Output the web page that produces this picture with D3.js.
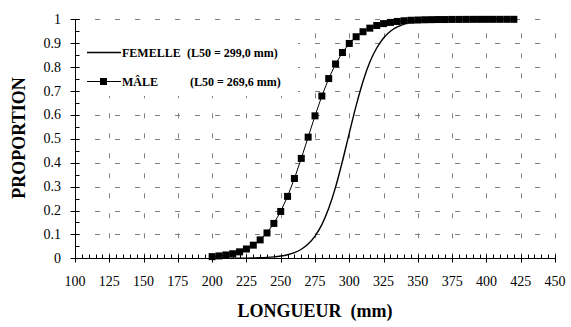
<!DOCTYPE html>
<html><head><meta charset="utf-8">
<script src="https://cdn.jsdelivr.net/npm/d3@7"></script>
<style>body{margin:0;background:#fff}svg{display:block}text{font-family:"Liberation Serif","Times New Roman",serif}</style>
</head><body>
<script>
const lengths = [200,205,210,215,220,225,230,235,240,245,250,255,260,265,270,275,280,285,290,295,300,305,310,315,320,325,330,335,340,345,350,355,360,365,370,375,380,385,390,395,400,405,410,415,420];
const maleValues = [0.007,0.010,0.014,0.019,0.027,0.039,0.055,0.077,0.106,0.146,0.196,0.259,0.334,0.418,0.507,0.596,0.679,0.752,0.813,0.861,0.899,0.927,0.948,0.963,0.974,0.982,0.987,0.991,0.994,0.996,0.997,0.998,0.9985,0.999,0.999,0.9995,0.9995,0.9997,0.9998,0.9998,0.9999,0.9999,0.9999,1,1];
const femaleValues = [0.0001,0.0001,0.0002,0.0003,0.0006,0.0009,0.0014,0.0023,0.0037,0.0059,0.0094,0.015,0.024,0.038,0.060,0.093,0.141,0.209,0.298,0.406,0.524,0.639,0.740,0.821,0.880,0.922,0.950,0.968,0.980,0.988,0.992,0.995,0.997,0.998,0.9988,0.9993,0.9996,0.9997,0.9998,0.9999,0.9999,0.9999,1,1,1];
const xTicks = [100,125,150,175,200,225,250,275,300,325,350,375,400,425,450];
const yTicks = [0,0.1,0.2,0.3,0.4,0.5,0.6,0.7,0.8,0.9,1];
const yTickLabels = ["0","0.1","0.2","0.3","0.4","0.5","0.6","0.7","0.8","0.9","1"];
const legendLabels = ["FEMELLE","MÂLE"];
const legendNotes = ["(L50 = 299,0 mm)","(L50 = 269,6 mm)"];
const xTitle = "LONGUEUR  (mm)";
const yTitle = "PROPORTION";

const W = 571, H = 327;
const FONT = "Liberation Serif";
const svg = d3.select("body").append("svg").attr("width", W).attr("height", H);
const x = d3.scaleLinear().domain([100,450]).range([75,555]);
const y = d3.scaleLinear().domain([0,1]).range([258.3,19.3]);

// grid
const grid = svg.append("g").attr("stroke","#808080").attr("stroke-width",1).attr("stroke-dasharray","5,15");
grid.selectAll("line.h").data(yTicks.filter(d=>d>0)).enter().append("line")
  .attr("x1", x(100)).attr("x2", x(450)).attr("y1", d=>Math.round(y(d))+0.5).attr("y2", d=>Math.round(y(d))+0.5);
grid.selectAll("line.v").data(xTicks.filter(d=>d>100)).enter().append("line")
  .attr("x1", d=>Math.round(x(d))+0.5).attr("x2", d=>Math.round(x(d))+0.5).attr("y1", y(0)).attr("y2", y(1));

// legend background
svg.append("rect").attr("x",80).attr("y",24).attr("width",218).attr("height",72).attr("fill","#fff");

// axes
const y0 = Math.round(y(0))+0.5, x0 = Math.round(x(100))+0.5;
const ax = svg.append("g").attr("stroke","#000").attr("stroke-width",1);
ax.append("line").attr("x1",x0).attr("x2",x(450)).attr("y1",y0).attr("y2",y0);
ax.append("line").attr("x1",x0).attr("x2",x0).attr("y1",y0).attr("y2",y(1));
const xMinor = d3.range(100,451,5);
ax.selectAll("line.xm").data(xMinor).enter().append("line")
  .attr("x1",d=>Math.round(x(d))+0.5).attr("x2",d=>Math.round(x(d))+0.5)
  .attr("y1",d=> y0 - 4).attr("y2",d=> (d%25===0) ? y0+4 : y0);
const yMinor = d3.range(0,21).map(i=>i*0.05);
ax.selectAll("line.ym").data(yMinor).enter().append("line")
  .attr("y1",d=>Math.round(y(d))+0.5).attr("y2",d=>Math.round(y(d))+0.5)
  .attr("x1",(d,i)=> i%2===0 ? x0-5 : x0).attr("x2",x0+4);

svg.selectAll("text.xt").data(xTicks).enter().append("text").attr("font-family",FONT)
  .attr("x",d=>x(d)).attr("y",286).attr("text-anchor","middle").attr("font-size",14).text(d=>d);
svg.selectAll("text.yt").data(yTicks).enter().append("text").attr("font-family",FONT)
  .attr("x",61).attr("y",d=>y(d)+4.5).attr("text-anchor","end").attr("font-size",14).text((d,i)=>yTickLabels[i]);

svg.append("text").attr("font-family",FONT).attr("x",315).attr("y",317).attr("text-anchor","middle").attr("font-size",18).attr("font-weight","bold")
  .style("white-space","pre").text(xTitle);
svg.append("text").attr("font-family",FONT).attr("transform","translate(25,138) rotate(-90)").attr("text-anchor","middle").attr("font-size",18).attr("font-weight","bold").text(yTitle);

// curves
const femaleData = lengths.map((l,i)=>[l,femaleValues[i]]);
const maleData = lengths.map((l,i)=>[l,maleValues[i]]);
svg.append("path").datum(femaleData).attr("fill","none").attr("stroke","#000").attr("stroke-width",1.4)
  .attr("d", d3.line().x(d=>x(d[0])).y(d=>y(d[1])).curve(d3.curveMonotoneX));
svg.append("path").datum(maleData).attr("fill","none").attr("stroke","#000").attr("stroke-width",1)
  .attr("d", d3.line().x(d=>x(d[0])).y(d=>y(d[1])));
const ms = 7;
svg.selectAll("rect.m").data(maleData).enter().append("rect")
  .attr("x",d=>x(d[0])-ms/2).attr("y",d=>y(d[1])-ms/2).attr("width",ms).attr("height",ms).attr("fill","#000");

// legend
const ly = [52.5, 81.5];
svg.append("line").attr("x1",87).attr("x2",121).attr("y1",ly[0]).attr("y2",ly[0]).attr("stroke","#000").attr("stroke-width",1.4);
svg.append("line").attr("x1",87).attr("x2",121).attr("y1",ly[1]).attr("y2",ly[1]).attr("stroke","#000").attr("stroke-width",1);
svg.append("rect").attr("x",103.5-ms/2).attr("y",ly[1]-ms/2).attr("width",ms).attr("height",ms).attr("fill","#000");
svg.selectAll("text.lg").data(legendLabels).enter().append("text").attr("font-family",FONT)
  .attr("x",122).attr("y",(d,i)=>ly[i]+4.5).attr("font-size",12).attr("font-weight","bold").text(d=>d);
svg.selectAll("text.ln").data(legendNotes).enter().append("text").attr("font-family",FONT)
  .attr("x",(d,i)=> i===0 ? 187 : 190).attr("y",(d,i)=>ly[i]+4.5).attr("font-size",12).attr("font-weight","bold").text(d=>d);
</script>
</body></html>
